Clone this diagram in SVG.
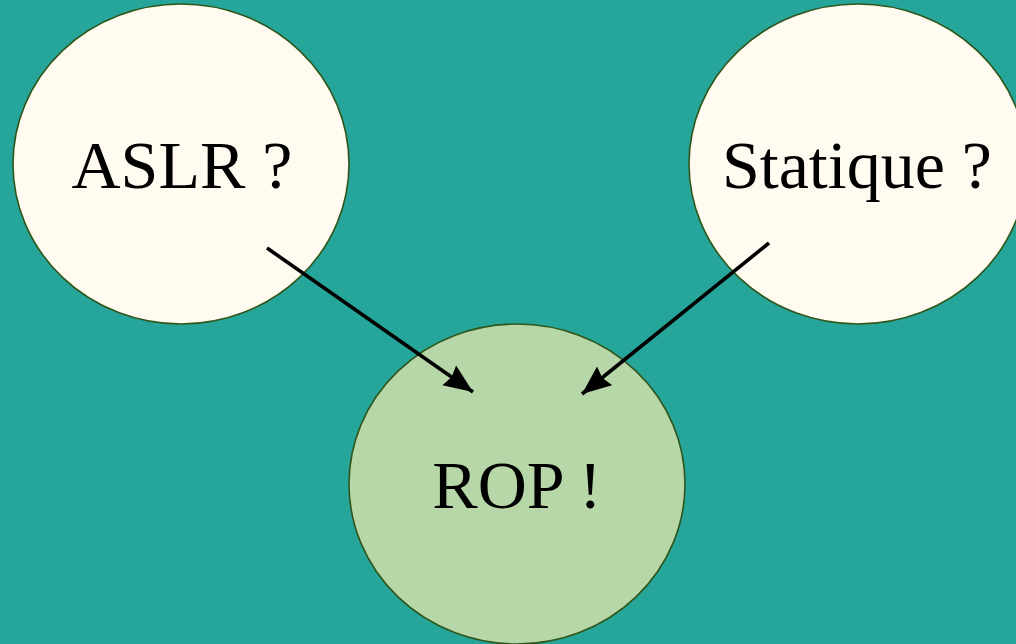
<svg xmlns="http://www.w3.org/2000/svg" width="1016" height="644" viewBox="0 0 1016 644">
  <style>
    .node { stroke: #2f561b; stroke-width: 1.6; }
    .q { fill: #fffbf0; }
    .ans { fill: #b7d7a8; }
    .label { font-family: "Liberation Serif", "DejaVu Serif", serif; font-size: 68px; fill: #000; text-anchor: middle; }
    .edge { stroke: #000; stroke-width: 3.6; fill: none; marker-end: url(#arrow); }
  </style>
  <defs>
    <marker id="arrow" markerUnits="userSpaceOnUse" markerWidth="32" markerHeight="28" refX="29" refY="13" orient="auto">
      <path d="M0,1 L29,13 L0,25 L3,13 Z" fill="#000"/>
    </marker>
  </defs>
  <rect width="1016" height="644" fill="#26a59a"/>
  <g id="aslr">
    <ellipse class="node q" cx="181" cy="164" rx="168" ry="160"/>
    <text class="label" x="182" y="188">ASLR ?</text>
  </g>
  <g id="statique">
    <ellipse class="node q" cx="858" cy="164" rx="169" ry="160"/>
    <text class="label" x="857" y="188">Statique ?</text>
  </g>
  <g id="rop">
    <ellipse class="node ans" cx="517" cy="484" rx="168" ry="160"/>
    <text class="label" x="517" y="508">ROP !</text>
  </g>
  <g id="connectors">
    <line class="edge" x1="267" y1="248" x2="473" y2="392"/>
    <line class="edge" x1="769" y1="243" x2="582" y2="394"/>
  </g>
</svg>
